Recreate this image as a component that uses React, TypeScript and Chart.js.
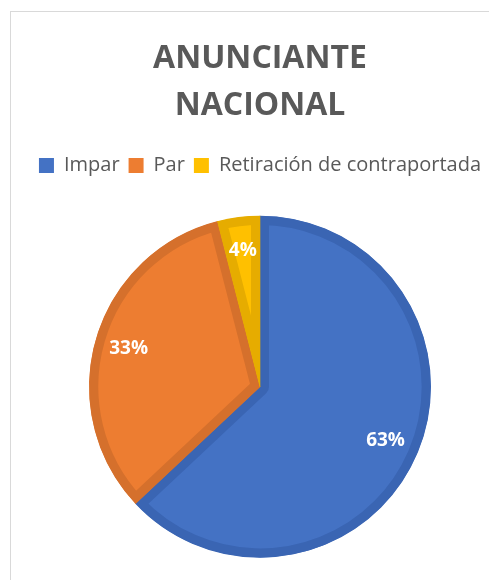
import React, { useEffect, useRef } from "react";
import { Chart, registerables } from "chart.js";

Chart.register(...registerables);

const categories = ["Impar", "Par", "Retiración de contraportada"];
const values = [63, 33, 4];
const valueLabels = ["63%", "33%", "4%"];
const titleLines = ["ANUNCIANTE", "NACIONAL"];

const fillColors = ["#4472C4", "#ED7D31", "#FFC000"];
const borderColors = ["#3A65B3", "#D5702C", "#E6AC00"];

const labelPlugin = {
  id: "sliceLabels",
  afterDatasetsDraw(chart: any) {
    const ctx = chart.ctx;
    const meta = chart.getDatasetMeta(0);
    ctx.save();
    ctx.fillStyle = "#FFFFFF";
    ctx.font = "bold 19px 'Open Sans'";
    ctx.textAlign = "center";
    ctx.textBaseline = "middle";
    meta.data.forEach((arc: any, i: number) => {
      const p = arc.getProps(["x", "y", "startAngle", "endAngle", "outerRadius"], true);
      const mid = (p.startAngle + p.endAngle) / 2;
      const r = p.outerRadius * 0.8;
      ctx.fillText(valueLabels[i], p.x + Math.cos(mid) * r, p.y + Math.sin(mid) * r);
    });
    ctx.restore();
  },
};

export default function App() {
  const ref = useRef<HTMLCanvasElement>(null);
  useEffect(() => {
    if (!ref.current) return;
    const chart = new Chart(ref.current, {
      type: "pie",
      data: {
        labels: categories,
        datasets: [
          {
            data: values,
            backgroundColor: fillColors,
            borderColor: borderColors,
            borderWidth: 9,
            borderAlign: "inner",
            radius: 171,
          } as any,
        ],
      },
      options: {
        animation: false,
        responsive: false,
        layout: { padding: { top: 0, bottom: 10 } },
        plugins: {
          title: {
            display: true,
            text: titleLines,
            color: "#595959",
            font: { family: "'Open Sans'", size: 32, weight: "bold", lineHeight: 1.46 },
            padding: { top: 24, bottom: 17 },
          },
          legend: {
            display: true,
            position: "top",
            labels: {
              color: "#595959",
              font: { family: "'Open Sans'", size: 20 },
              boxWidth: 15,
              boxHeight: 15,
              padding: 9,
              generateLabels(chart: any) {
                return chart.data.labels.map((text: string, i: number) => ({
                  text,
                  fillStyle: fillColors[i],
                  strokeStyle: fillColors[i],
                  lineWidth: 0,
                  fontColor: "#595959",
                  hidden: false,
                  index: i,
                }));
              },
            },
          },
          tooltip: { enabled: false },
        },
      },
      plugins: [labelPlugin],
    });
    return () => chart.destroy();
  }, []);
  return (
    <div style={{ width: 489, height: 572, overflow: "hidden" }}>
      <div
        style={{
          marginLeft: 2,
          marginTop: 3,
          width: 520,
          height: 600,
          border: "1px solid #D9D9D9",
          background: "#fff",
        }}
      >
        <canvas ref={ref} width={498} height={586} style={{ display: "block" }} />
      </div>
    </div>
  );
}
